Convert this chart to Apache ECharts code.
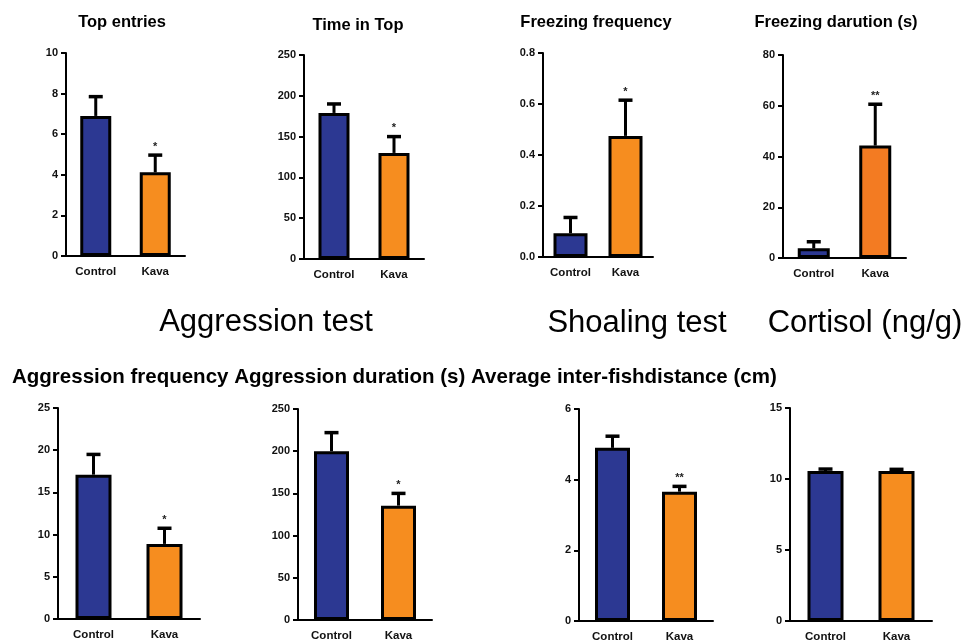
<!DOCTYPE html>
<html><head><meta charset="utf-8">
<script src="https://cdn.jsdelivr.net/npm/echarts@6/dist/echarts.min.js"></script>
<style>html,body{margin:0;padding:0;background:#fff}#c{width:964px;height:643px}</style>
</head><body><div id="c"></div>
<script>
// ---- data ----
const categories = ['Control', 'Kava'];
const panelTitles = ['Top entries', 'Time in Top', 'Freezing frequency', 'Freezing darution (s)'];
const bottomTitle = 'Aggression frequency Aggression duration (s) Average inter-fishdistance (cm)';
const groupLabels = ['Aggression test', 'Shoaling test', 'Cortisol (ng/g)'];

const topEntriesMean = [6.9, 4.12];
const topEntriesSem = [0.95, 0.85];
const timeInTopMean = [179, 130];
const timeInTopSem = [11, 20];
const freezingFreqMean = [0.093, 0.475];
const freezingFreqSem = [0.062, 0.14];
const freezingDurMean = [3.8, 44.3];
const freezingDurSem = [2.6, 16.3];
const aggrFreqMean = [17.1, 8.9];
const aggrFreqSem = [2.4, 1.85];
const aggrDurMean = [200, 135.5];
const aggrDurSem = [22, 14.5];
const interFishMean = [4.9, 3.66];
const interFishSem = [0.33, 0.15];
const cortisolMean = [10.56, 10.56];
const cortisolSem = [0.14, 0.12];

const yMax = [10, 250, 0.8, 80, 25, 250, 6, 15];
const yStep = [2, 50, 0.2, 20, 5, 50, 2, 5];
const yDecimals = [0, 0, 1, 0, 0, 0, 0, 0];
const significance = [['', '*'], ['', '*'], ['', '*'], ['', '**'], ['', '*'], ['', '*'], ['', '**'], ['', '']];

const means = [topEntriesMean, timeInTopMean, freezingFreqMean, freezingDurMean, aggrFreqMean, aggrDurMean, interFishMean, cortisolMean];
const sems = [topEntriesSem, timeInTopSem, freezingFreqSem, freezingDurSem, aggrFreqSem, aggrDurSem, interFishSem, cortisolSem];

// ---- layout / style ----
const grids = [
  {left: 66, top: 53, width: 119, height: 203},
  {left: 304, top: 55, width: 120, height: 204},
  {left: 543, top: 53, width: 110, height: 204},
  {left: 783, top: 55, width: 123, height: 203},
  {left: 58, top: 408, width: 142, height: 211},
  {left: 298, top: 409, width: 134, height: 211},
  {left: 579, top: 409, width: 134, height: 212},
  {left: 790, top: 408, width: 142, height: 213}
];
const barWidths = [31, 31, 34, 32, 36, 35, 35, 36];
const BLUE = '#2C3892';
const ORANGE = '#F68D1F';
const ORANGE2 = '#F37B22';
const FONT = '"Liberation Sans", Arial, sans-serif';

const xAxes = [], yAxes = [], series = [];
grids.forEach((g, i) => {
  xAxes.push({
    type: 'category', gridIndex: i, data: categories,
    axisLine: {lineStyle: {color: '#000', width: 2}},
    axisTick: {alignWithLabel: true, length: 5, lineStyle: {color: '#000', width: 2}},
    axisLabel: {color: '#111', fontWeight: 'bold', fontSize: 11.5, fontFamily: FONT, margin: 10}
  });
  yAxes.push({
    type: 'value', gridIndex: i, min: 0, max: yMax[i], interval: yStep[i],
    splitLine: {show: false},
    axisLine: {show: true, lineStyle: {color: '#000', width: 2}},
    axisTick: {show: true, length: 5, lineStyle: {color: '#000', width: 2}},
    axisLabel: {color: '#111', fontWeight: 'bold', fontSize: 11, fontFamily: FONT, margin: 8,
      formatter: v => v.toFixed(yDecimals[i])}
  });
  series.push({
    type: 'bar', xAxisIndex: i, yAxisIndex: i, barWidth: barWidths[i], z: 2,
    data: means[i].map((v, k) => ({value: v, itemStyle: {color: k === 0 ? BLUE : (i === 3 ? ORANGE2 : ORANGE), borderColor: '#000', borderWidth: 3}})),
    silent: true
  });
  const sig = significance[i];
  series.push({
    type: 'custom', xAxisIndex: i, yAxisIndex: i, z: 3, silent: true,
    encode: {x: 0, y: [1, 2]},
    data: means[i].map((v, k) => [k, v, v + sems[i][k]]),
    renderItem: function (params, api) {
      const c = api.value(0), m = api.value(1), u = api.value(2);
      const p0 = api.coord([c, m]);
      const p1 = api.coord([c, u]);
      const cap = 7;
      const children = [
        {type: 'line', shape: {x1: p0[0], y1: p0[1], x2: p1[0], y2: p1[1]}, style: {stroke: '#000', lineWidth: 3}},
        {type: 'line', shape: {x1: p1[0] - cap, y1: p1[1], x2: p1[0] + cap, y2: p1[1]}, style: {stroke: '#000', lineWidth: 3.5}}
      ];
      const s = sig[params.dataIndex];
      if (s) {
        children.push({type: 'text', x: p1[0], y: p1[1] - 3,
          style: {text: s, fill: '#222', font: 'bold 11px ' + FONT, textAlign: 'center', textVerticalAlign: 'bottom'}});
      }
      return {type: 'group', children: children};
    }
  });
});

const titleCenters = [[122, 22], [358, 25], [596, 22], [836, 22]];
const graphics = [];
panelTitles.forEach((t, i) => {
  graphics.push({type: 'text', x: titleCenters[i][0], y: titleCenters[i][1],
    style: {text: t, fill: '#000', font: 'bold 16.5px ' + FONT, textAlign: 'center', textVerticalAlign: 'middle'}});
});
const groupPos = [[266, 322], [637, 323], [865, 323]];
groupLabels.forEach((t, i) => {
  graphics.push({type: 'text', x: groupPos[i][0], y: groupPos[i][1],
    style: {text: t, fill: '#000', font: '31px ' + FONT, textAlign: 'center', textVerticalAlign: 'middle'}});
});
graphics.push({type: 'text', x: 12, y: 377,
  style: {text: bottomTitle, fill: '#000', font: 'bold 20.5px ' + FONT, textAlign: 'left', textVerticalAlign: 'middle'}});

const chart = echarts.init(document.getElementById('c'), null, {renderer: 'canvas'});
chart.setOption({
  animation: false,
  backgroundColor: '#fff',
  grid: grids.map(g => Object.assign({containLabel: false}, g)),
  xAxis: xAxes,
  yAxis: yAxes,
  series: series,
  graphic: graphics
});
</script></body></html>
